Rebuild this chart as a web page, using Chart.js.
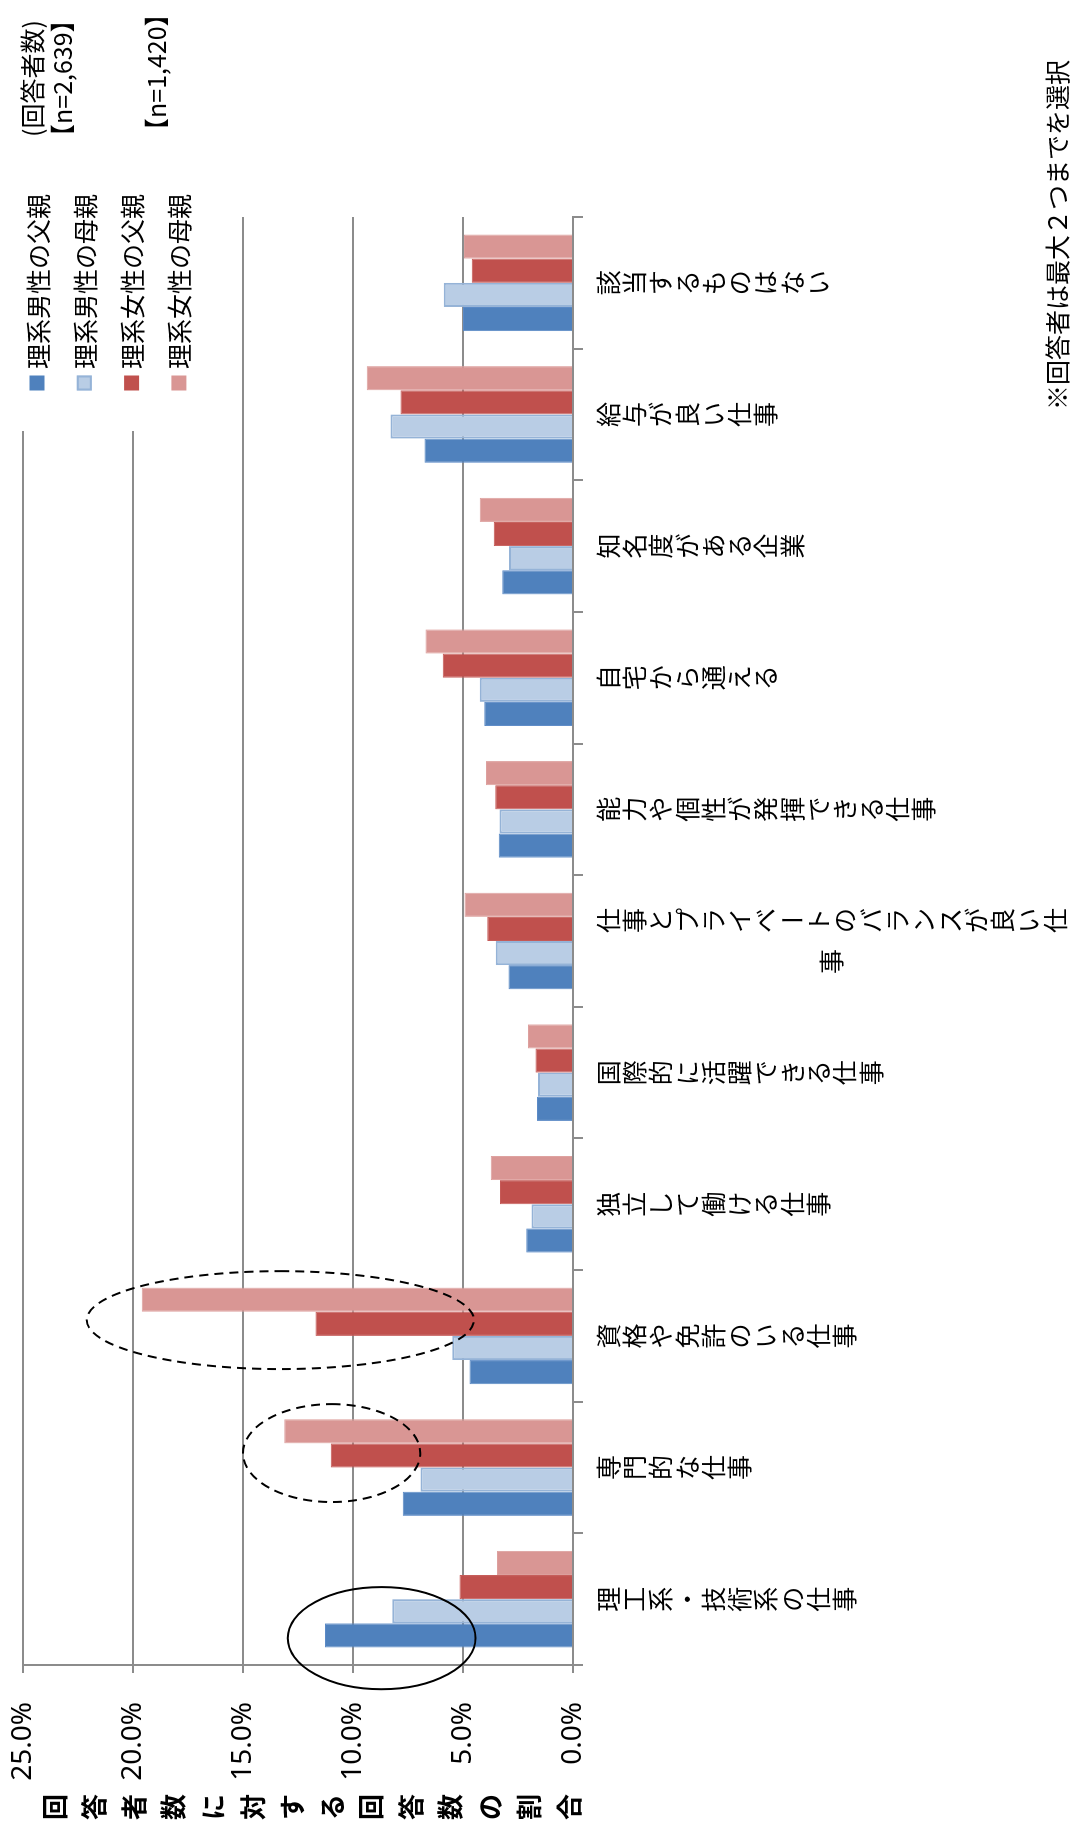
<!DOCTYPE html>
<html>
<head>
<meta charset="utf-8">
<script src="https://cdn.jsdelivr.net/npm/chart.js@4.4.0/dist/chart.umd.min.js"></script>
<style>
  html, body { margin: 0; padding: 0; background: #fff; overflow: hidden; }
  /* the chart is laid out landscape and turned a quarter turn to the left */
  #wrap {
    position: absolute; left: 0; top: 0;
    width: 1832px; height: 1082px;
    transform-origin: 0 0;
    transform: translateY(1832px) rotate(-90deg);
  }
</style>
</head>
<body>
<div id="wrap"><canvas id="myChart" width="1832" height="1082"></canvas></div>
<script>
const categories = [
  '理工系・技術系の仕事', '専門的な仕事', '資格や免許のいる仕事', '独立して働ける仕事',
  '国際的に活躍できる仕事', '仕事とプライベートのバランスが良い仕事', '能力や個性が発揮できる仕事',
  '自宅から通える', '知名度がある企業', '給与が良い仕事', '該当するものはない'
];
const seriesNames = ['理系男性の父親', '理系男性の母親', '理系女性の父親', '理系女性の母親'];

// 回答者数に対する回答数の割合 (%)
const maleFather   = [11.27, 7.74, 4.71, 2.13, 1.64, 2.93, 3.38, 4.03, 3.22, 6.75, 5.00];
const maleMother   = [8.22, 6.93, 5.49, 1.89, 1.59, 3.51, 3.34, 4.24, 2.91, 8.29, 5.87];
const femaleFather = [5.16, 11.01, 11.70, 3.32, 1.70, 3.90, 3.53, 5.92, 3.60, 7.84, 4.60];
const femaleMother = [3.46, 13.12, 19.60, 3.74, 2.04, 4.93, 3.96, 6.70, 4.24, 9.38, 4.95];

const axisTitle = '回答者数に対する回答数の割合';
const respondentNotes = ['(回答者数)', '【n=2,639】', '【n=1,420】'];
const footNote = '※回答者は最大２つまでを選択';

// rings drawn over some of the bars: category, shift along the category axis,
// centre value (%), half width in % and half width in categories
const rings = [
  { cat: 0, shift: -0.296, value: 8.7,  valueR: 4.27, catR: 0.388, dashed: false },
  { cat: 1, shift: 0.11,   value: 10.97, valueR: 4.03, catR: 0.372, dashed: true },
  { cat: 2, shift: 0.12,   value: 13.3, valueR: 8.8,  catR: 0.372, dashed: true }
];

const fills   = ['#4F81BD', '#B9CDE5', '#C0504D', '#D99694'];
const borders = ['#5B8AC6', '#95B3D7', '#C55A57', '#DDA09E'];
const borderW = [1, 2, 1, 1];

const JP = '"Noto Sans CJK JP", "Noto Sans", sans-serif';
const GRID = '#8c8c8c';

function drawColumn(ctx, chars, x, y0, step) {
  chars.forEach((ch, i) => {
    ctx.save();
    ctx.translate(x, y0 + step * i + step / 2);
    if (ch === 'ー') ctx.rotate(Math.PI / 2);
    ctx.fillText(ch, 0, 0);
    ctx.restore();
  });
}

const decorations = {
  id: 'decorations',
  afterDatasetsDraw(chart) {
    const ctx = chart.ctx;
    const xs = chart.scales.x, ys = chart.scales.y;
    const band = xs.getPixelForValue(1) - xs.getPixelForValue(0);
    ctx.save();
    ctx.strokeStyle = '#000';
    ctx.lineWidth = 2;
    rings.forEach(r => {
      const cx = xs.getPixelForValue(r.cat) + r.shift * band;
      const cy = ys.getPixelForValue(r.value);
      const ry = ys.getPixelForValue(0) - ys.getPixelForValue(r.valueR);
      ctx.setLineDash(r.dashed ? [9, 6] : []);
      ctx.beginPath();
      ctx.ellipse(cx, cy, r.catR * band, ry, 0, 0, Math.PI * 2);
      ctx.stroke();
    });
    ctx.restore();
  },
  afterDraw(chart) {
    const ctx = chart.ctx;
    const area = chart.chartArea;
    const xs = chart.scales.x;

    ctx.save();
    ctx.fillStyle = '#000';
    ctx.textAlign = 'center';
    ctx.textBaseline = 'middle';

    // category labels, written top to bottom, wrapping into columns to the left
    ctx.font = '25px ' + JP;
    const step = 26.3, top = area.bottom + 22;
    const maxChars = Math.floor((chart.height - top) / step);
    categories.forEach((label, i) => {
      const chars = Array.from(label);
      const cols = [];
      for (let k = 0; k < chars.length; k += maxChars) cols.push(chars.slice(k, k + maxChars));
      const cx = xs.getPixelForValue(i);
      const longest = cols[0].length;
      cols.forEach((col, j) => {
        const x = cx + ((cols.length - 1) / 2 - j) * 41;
        const y0 = top + (longest - col.length) * step / 2;
        drawColumn(ctx, col, x, y0, step);
      });
    });

    // value axis title
    ctx.font = 'bold 26px ' + JP;
    const tChars = Array.from(axisTitle);
    const t0 = area.top + 32, t1 = area.bottom - 4;
    tChars.forEach((ch, i) => {
      ctx.fillText(ch, 25, t0 + (t1 - t0) * i / (tChars.length - 1));
    });

    // legend box
    const boxLeft = area.right - 214;
    ctx.fillStyle = '#fff';
    ctx.fillRect(boxLeft, 0, area.right - boxLeft + 2, 200);
    ctx.textAlign = 'left';
    ctx.font = '25px ' + JP;
    chart.data.datasets.forEach((ds, i) => {
      const y = 37 + i * 47.3;
      const mx = area.right - 166;
      ctx.fillStyle = ds.backgroundColor;
      ctx.fillRect(mx - 7.5, y - 7.5, 15, 15);
      if (ds.borderWidth > 1) {
        ctx.strokeStyle = ds.borderColor;
        ctx.lineWidth = 2;
        ctx.strokeRect(mx - 6.5, y - 6.5, 13, 13);
      }
      ctx.fillStyle = '#000';
      ctx.fillText(ds.label, mx + 14, y + 1);
    });

    // respondent counts and note
    ctx.fillText(respondentNotes[0], 1695, 32);
    ctx.fillText(respondentNotes[1], 1683, 62);
    ctx.fillText(respondentNotes[2], 1689, 156);
    ctx.fillText(footNote, 1422, 1057);
    ctx.restore();
  }
};

const seriesValues = [maleFather, maleMother, femaleFather, femaleMother];

const myChart = new Chart(document.getElementById('myChart').getContext('2d'), {
  type: 'bar',
  data: {
    labels: categories,
    datasets: seriesNames.map((name, i) => ({
      label: name,
      data: seriesValues[i],
      backgroundColor: fills[i],
      borderColor: borders[i],
      borderWidth: borderW[i],
      categoryPercentage: 0.734,
      barPercentage: 1.0
    }))
  },
  options: {
    responsive: false,
    animation: false,
    layout: { padding: { top: 23, right: 217, bottom: 0, left: 0 } },
    plugins: { legend: { display: false }, tooltip: { enabled: false } },
    scales: {
      x: {
        ticks: { display: false },
        grid: { drawOnChartArea: false, drawTicks: true, tickLength: 10, color: GRID, lineWidth: 2, offset: true },
        border: { display: true, color: GRID, width: 2 },
        afterFit(scale) { scale.height = 509; }
      },
      y: {
        min: 0,
        max: 25,
        ticks: {
          stepSize: 5,
          padding: 29,
          color: '#000',
          font: { family: '"Noto Sans", sans-serif', size: 28 },
          callback: v => v.toFixed(1) + '%'
        },
        grid: { color: GRID, lineWidth: 2, tickLength: 8 },
        border: { display: true, color: GRID, width: 2 },
        afterFit(scale) {
          scale.width = 167;
          // the top label fits inside the layout padding already
          scale.paddingTop = 0;
          scale.paddingBottom = 0;
        }
      }
    }
  },
  plugins: [decorations]
});
</script>
</body>
</html>
